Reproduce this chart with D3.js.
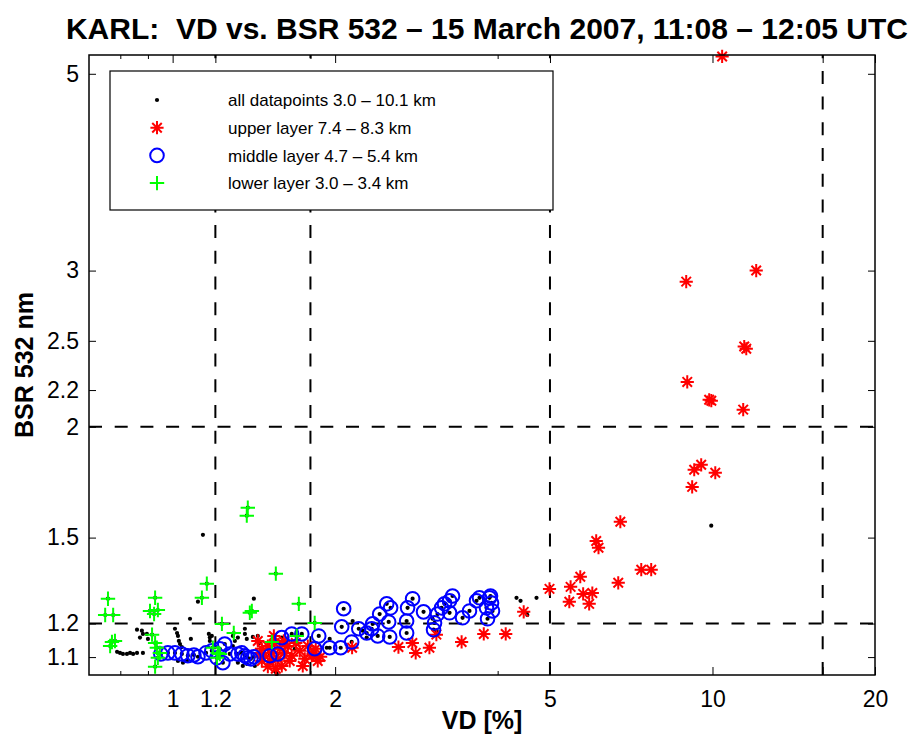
<!DOCTYPE html>
<html>
<head>
<meta charset="utf-8">
<script src="https://cdn.jsdelivr.net/npm/d3@7"></script>
<style>
  html, body { margin: 0; padding: 0; background: #fff; }
  svg { display: block; font-family: "Liberation Sans", Arial, Helvetica, sans-serif; }
</style>
</head>
<body>
<svg id="chart" width="912" height="739"></svg>
<script>
// ---- Data: [VD %, BSR 532] pairs ----
const upperLayer = [
  [10.42, 5.23], [8.94, 2.915], [12.05, 3.00], [11.45, 2.463], [11.55, 2.449],
  [8.98, 2.247], [9.86, 2.145], [9.95, 2.14], [11.40, 2.091], [9.53, 1.812],
  [9.25, 1.789], [10.12, 1.775], [9.17, 1.711], [6.75, 1.563], [6.09, 1.487],
  [6.15, 1.461], [7.38, 1.380], [7.70, 1.380], [5.69, 1.355], [6.69, 1.334],
  [5.46, 1.320], [5.76, 1.296], [5.99, 1.299], [5.43, 1.270], [5.91, 1.263],
  [4.99, 1.313], [4.47, 1.237], [3.08, 1.166], [3.43, 1.144], [3.77, 1.168],
  [4.14, 1.168], [2.99, 1.127], [2.62, 1.129], [2.78, 1.141], [2.82, 1.112],
  [2.15, 1.127], [1.88, 1.101], [1.82, 1.109],
  [1.438, 1.147], [1.463, 1.124], [1.482, 1.104], [1.501, 1.132], [1.514, 1.089],
  [1.527, 1.112], [1.546, 1.141], [1.566, 1.095], [1.580, 1.124], [1.593, 1.075],
  [1.613, 1.112], [1.634, 1.132], [1.648, 1.089], [1.463, 1.089], [1.501, 1.073],
  [1.553, 1.067], [1.607, 1.147], [1.451, 1.112], [1.662, 1.104], [1.540, 1.162],
  [1.720, 1.118], [1.757, 1.095], [1.780, 1.132], [1.810, 1.104], [1.841, 1.124],
  [1.857, 1.089], [1.742, 1.075], [1.691, 1.141]
];

const middleLayer = [
  [0.951, 1.109], [0.980, 1.112], [1.010, 1.112], [1.040, 1.109], [1.067, 1.104],
  [1.095, 1.106], [1.114, 1.101], [1.153, 1.112], [1.182, 1.118], [1.208, 1.098],
  [1.223, 1.124], [1.249, 1.138], [1.239, 1.084], [1.276, 1.109], [1.321, 1.109],
  [1.343, 1.112], [1.361, 1.104], [1.378, 1.098], [1.396, 1.095], [1.414, 1.101],
  [1.514, 1.104], [1.566, 1.109], [1.593, 1.157], [1.662, 1.168], [1.735, 1.168],
  [1.833, 1.124], [1.865, 1.162], [1.954, 1.127], [2.048, 1.127], [2.057, 1.190],
  [2.074, 1.247], [2.146, 1.144], [2.212, 1.184], [2.288, 1.171], [2.337, 1.184],
  [2.347, 1.199], [2.398, 1.162], [2.418, 1.230], [2.492, 1.263], [2.513, 1.205],
  [2.524, 1.159], [2.534, 1.250], [2.713, 1.171], [2.713, 1.208], [2.724, 1.250],
  [2.783, 1.280], [2.916, 1.237], [3.043, 1.181], [3.056, 1.202], [3.095, 1.230],
  [3.149, 1.250], [3.189, 1.263], [3.258, 1.273], [3.258, 1.234], [3.300, 1.289],
  [3.444, 1.218], [3.547, 1.240], [3.655, 1.273], [3.702, 1.283], [3.814, 1.250],
  [3.831, 1.215], [3.864, 1.283], [3.897, 1.266], [3.913, 1.240], [3.880, 1.289]
];

const lowerLayer = [
  [0.759, 1.280], [0.750, 1.227], [0.776, 1.227], [0.772, 1.144], [0.782, 1.147],
  [0.766, 1.132], [0.928, 1.283], [0.908, 1.240], [0.939, 1.243], [0.924, 1.230],
  [0.916, 1.166], [0.928, 1.141], [0.935, 1.127], [0.947, 1.112], [0.939, 1.098],
  [0.928, 1.073], [1.157, 1.331], [1.133, 1.283], [1.234, 1.199], [1.298, 1.171],
  [1.187, 1.127], [1.213, 1.112], [1.208, 1.098], [1.223, 1.109], [1.378, 1.621],
  [1.372, 1.588], [1.553, 1.366], [1.713, 1.263], [1.390, 1.234], [1.402, 1.240],
  [1.527, 1.144], [1.698, 1.162], [1.833, 1.202]
];

// remaining profile points outside the three layers
const otherPoints = [
  [0.789, 1.115], [0.799, 1.112], [0.809, 1.109], [0.823, 1.109], [0.834, 1.112],
  [0.845, 1.109], [0.859, 1.112], [0.881, 1.112], [0.859, 1.181], [0.877, 1.178],
  [0.881, 1.168], [0.870, 1.157], [0.896, 1.168], [0.900, 1.153], [1.010, 1.184],
  [1.019, 1.171], [1.023, 1.162], [1.027, 1.147], [1.032, 1.138], [1.040, 1.129],
  [1.081, 1.153], [1.077, 1.215], [1.114, 1.270], [1.138, 1.511], [1.414, 1.280],
  [1.167, 1.168], [1.172, 1.157], [1.182, 1.162], [1.172, 1.147], [1.293, 1.162],
  [1.304, 1.147], [1.293, 1.132], [1.361, 1.184], [1.361, 1.168], [1.372, 1.153],
  [1.408, 1.159], [1.432, 1.147], [1.438, 1.162], [1.451, 1.141], [1.321, 1.157],
  [1.349, 1.075], [1.372, 1.081], [1.321, 1.084], [1.420, 1.075], [1.023, 1.089],
  [1.045, 1.084], [1.063, 1.089], [1.546, 1.061], [1.559, 1.053], [1.553, 1.058],
  [1.684, 1.124], [1.698, 1.138], [1.930, 1.127], [1.954, 1.153], [2.155, 1.208],
  [2.249, 1.178], [2.288, 1.157], [3.083, 1.178], [3.030, 1.215], [4.335, 1.283],
  [4.410, 1.273], [4.721, 1.283], [4.524, 1.234], [4.540, 1.227], [9.947, 1.547]
];

const allPoints = otherPoints.concat(lowerLayer, middleLayer, upperLayer);

// axis ticks and reference lines
const xMajorTicks = [1, 1.2, 2, 5, 10, 16, 20];
const xTickLabels = { 1: "1", 1.2: "1.2", 2: "2", 5: "5", 10: "10", 20: "20" };
const xMinorTicks = [0.8, 0.9, 1.8, 4];
const yTicks = [1.1, 1.2, 1.5, 2, 2.2, 2.5, 3, 5];
const vdThresholds = [1.2, 1.8, 5, 16];
const bsrThresholds = [1.2, 2];

const legendItems = [
  { key: "all", label: "all datapoints 3.0 \u2013 10.1 km" },
  { key: "upper", label: "upper layer 7.4 \u2013 8.3 km" },
  { key: "middle", label: "middle layer 4.7 \u2013 5.4 km" },
  { key: "lower", label: "lower layer 3.0 \u2013 3.4 km" }
];

// ---- Layout ----
const plot = { left: 89, right: 875, top: 55, bottom: 675 };
const svg = d3.select("#chart");

const x = d3.scaleLog().domain([0.7, 20]).range([plot.left, plot.right]);
const y = d3.scaleLog().domain([1.05, 5.25]).range([plot.bottom, plot.top]);

// marker shapes
const star = h => {
  const d = h * 0.72;
  return `M${-h},0L${h},0M0,${-h}L0,${h}M${-d},${-d}L${d},${d}M${-d},${d}L${d},${-d}`;
};
const plus = h => `M${-h},0L${h},0M0,${-h}L0,${h}`;

const STAR = { h: 6.6, w: 2 };
const RING = { r: 6.8, w: 2 };
const CROSS = { h: 7.2, w: 2 };

// reference dashed lines (pattern starts at the bottom / left edge)
const refs = svg.append("g").attr("stroke", "#000").attr("stroke-width", 2)
  .attr("stroke-dasharray", "13,12.7").attr("fill", "none");
refs.selectAll("line.v").data(vdThresholds).join("line").attr("class", "v")
  .attr("x1", d => x(d)).attr("x2", d => x(d))
  .attr("y1", plot.bottom).attr("y2", plot.top);
refs.selectAll("line.h").data(bsrThresholds).join("line").attr("class", "h")
  .attr("x1", plot.left).attr("x2", plot.right)
  .attr("y1", d => y(d)).attr("y2", d => y(d));

// all datapoints
svg.append("g").selectAll("circle").data(allPoints).join("circle")
  .attr("cx", d => x(d[0])).attr("cy", d => y(d[1])).attr("r", 2.1).attr("fill", "#000");

// upper layer
svg.append("g").selectAll("path").data(upperLayer).join("path")
  .attr("transform", d => `translate(${x(d[0])},${y(d[1])})`)
  .attr("d", star(STAR.h)).attr("stroke", "#ff0000").attr("stroke-width", STAR.w).attr("fill", "none");

// middle layer
svg.append("g").selectAll("circle").data(middleLayer).join("circle")
  .attr("cx", d => x(d[0])).attr("cy", d => y(d[1])).attr("r", RING.r)
  .attr("fill", "none").attr("stroke", "#0000ff").attr("stroke-width", RING.w);

// lower layer
svg.append("g").selectAll("path").data(lowerLayer).join("path")
  .attr("transform", d => `translate(${x(d[0])},${y(d[1])})`)
  .attr("d", plus(CROSS.h)).attr("stroke", "#00ff00").attr("stroke-width", CROSS.w).attr("fill", "none");

// ---- Legend ----
const lg = svg.append("g");
lg.append("rect").attr("x", 110).attr("y", 71).attr("width", 443).attr("height", 139)
  .attr("fill", "#fff").attr("stroke", "#000").attr("stroke-width", 1.2);
const rows = lg.selectAll("g.row").data(legendItems).join("g").attr("class", "row")
  .attr("transform", (d, i) => `translate(157,${100 + i * 27.7})`);
rows.each(function (d) {
  const g = d3.select(this);
  if (d.key === "all") g.append("circle").attr("r", 2.1).attr("fill", "#000");
  if (d.key === "upper") g.append("path").attr("d", star(STAR.h)).attr("stroke", "#ff0000").attr("stroke-width", STAR.w);
  if (d.key === "middle") g.append("circle").attr("r", RING.r).attr("fill", "none").attr("stroke", "#0000ff").attr("stroke-width", RING.w);
  if (d.key === "lower") g.append("path").attr("d", plus(CROSS.h)).attr("stroke", "#00ff00").attr("stroke-width", CROSS.w);
});
rows.append("text").attr("x", 71).attr("dy", "0.36em").attr("font-size", 17)
  .attr("fill", "#000").text(d => d.label);

// ---- Axes ----
const axisStyle = g => {
  g.select(".domain").remove();
  g.selectAll(".tick line").attr("stroke", "#000").attr("stroke-width", 1);
  g.selectAll("text").attr("fill", "#000").attr("font-size", 23)
    .attr("font-family", "'Liberation Sans', Arial, Helvetica, sans-serif");
};

svg.append("g").attr("transform", `translate(0,${plot.bottom})`)
  .call(d3.axisBottom(x).tickValues(xMajorTicks).tickSizeInner(-8).tickSizeOuter(0)
    .tickPadding(16).tickFormat(d => xTickLabels[d] || ""))
  .call(axisStyle);
svg.append("g").attr("transform", `translate(0,${plot.top})`)
  .call(d3.axisTop(x).tickValues(xMajorTicks).tickSizeInner(-8).tickSizeOuter(0).tickFormat(""))
  .call(axisStyle);
svg.append("g").attr("transform", `translate(0,${plot.bottom})`)
  .call(d3.axisBottom(x).tickValues(xMinorTicks).tickSizeInner(-4).tickSizeOuter(0).tickFormat(""))
  .call(axisStyle);
svg.append("g").attr("transform", `translate(0,${plot.top})`)
  .call(d3.axisTop(x).tickValues(xMinorTicks).tickSizeInner(-4).tickSizeOuter(0).tickFormat(""))
  .call(axisStyle);

svg.append("g").attr("transform", `translate(${plot.left},0)`)
  .call(d3.axisLeft(y).tickValues(yTicks).tickSizeInner(-7).tickSizeOuter(0)
    .tickPadding(10).tickFormat(d3.format("")))
  .call(axisStyle);
svg.append("g").attr("transform", `translate(${plot.right},0)`)
  .call(d3.axisRight(y).tickValues(yTicks).tickSizeInner(-7).tickSizeOuter(0).tickFormat(""))
  .call(axisStyle);

// plot frame
svg.append("rect").attr("x", plot.left).attr("y", plot.top)
  .attr("width", plot.right - plot.left).attr("height", plot.bottom - plot.top)
  .attr("fill", "none").attr("stroke", "#000").attr("stroke-width", 1.5);

// ---- Titles ----
svg.append("text").attr("x", 487).attr("y", 39).attr("text-anchor", "middle")
  .attr("font-size", 30).attr("font-weight", "bold")
  .text("KARL:\u00a0 VD vs. BSR 532 \u2013 15 March 2007, 11:08 \u2013 12:05 UTC");
svg.append("text").attr("x", (plot.left + plot.right) / 2).attr("y", 729)
  .attr("text-anchor", "middle").attr("font-size", 25).attr("font-weight", "bold")
  .text("VD [%]");
svg.append("text").attr("transform", `translate(33,${(plot.top + plot.bottom) / 2}) rotate(-90)`)
  .attr("text-anchor", "middle").attr("font-size", 25).attr("font-weight", "bold")
  .text("BSR 532 nm");
</script>
</body>
</html>
